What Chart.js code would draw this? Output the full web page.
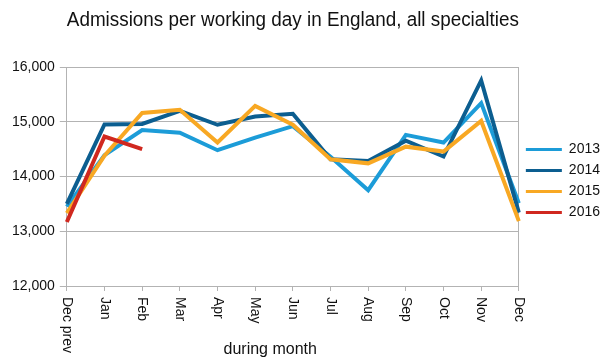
<!DOCTYPE html>
<html lang="en">
<head>
  <meta charset="UTF-8">
  <title>Admissions per working day in England</title>
  <script src="https://cdn.jsdelivr.net/npm/chart.js"></script>
  <style>
    html, body {
      margin: 0;
      padding: 0;
      background: #ffffff;
    }
    #wrap {
      width: 606px;
      height: 362px;
    }
  </style>
</head>
<body>

<div id="wrap"><canvas id="grafico" width="606" height="362"></canvas></div>

<script>
const chartTitle = 'Admissions per working day in England, all specialties';
const xTitle = 'during month';
const months = ['Dec prev', 'Jan', 'Feb', 'Mar', 'Apr', 'May', 'Jun', 'Jul', 'Aug', 'Sep', 'Oct', 'Nov', 'Dec'];
const y2013 = [13450, 14390, 14850, 14800, 14480, 14710, 14920, 14360, 13750, 14760, 14620, 15340, 13510];
const y2014 = [13500, 14950, 14960, 15200, 14945, 15095, 15145, 14315, 14285, 14655, 14365, 15755, 13340];
const y2015 = [13330, 14380, 15160, 15220, 14620, 15290, 14945, 14315, 14240, 14545, 14455, 15015, 13185];
const y2016 = [13170, 14730, 14500];
const yTicks = [12000, 13000, 14000, 15000, 16000];

const grid = '#b3b3b3';
const font = 'Liberation Sans, Arial, sans-serif';

// x labels read top to bottom, so they are drawn here instead of by the scale
const rotatedLabels = {
  id: 'rotatedLabels',
  afterDraw(chart) {
    const ctx = chart.ctx;
    const xs = chart.scales.x;
    const area = chart.chartArea;
    ctx.save();
    ctx.fillStyle = '#111';
    ctx.font = '14px ' + font;
    months.forEach((m, i) => {
      ctx.save();
      ctx.translate(xs.getPixelForTick(i), area.bottom + 11);
      ctx.rotate(Math.PI / 2);
      ctx.textAlign = 'left';
      ctx.textBaseline = 'middle';
      ctx.fillText(m, 0, 0);
      ctx.restore();
    });
    ctx.font = '16px ' + font;
    ctx.textAlign = 'center';
    ctx.textBaseline = 'alphabetic';
    ctx.fillText(xTitle, area.left + (area.right - area.left) * 0.45, area.bottom + 68);
    ctx.restore();
  }
};

const mkSet = (label, data, color) => ({
  label: label,
  data: data,
  borderColor: color,
  backgroundColor: color,
  borderWidth: 4,
  pointRadius: 0,
  tension: 0,
  fill: false
});

new Chart(document.getElementById('grafico').getContext('2d'), {
  type: 'line',
  data: {
    labels: months,
    datasets: [
      mkSet('2016', y2016, '#d0281f'),
      mkSet('2015', y2015, '#f8a823'),
      mkSet('2014', y2014, '#0c5e90'),
      mkSet('2013', y2013, '#1c9cd8')
    ]
  },
  options: {
    responsive: false,
    animation: false,
    layout: { padding: { left: 7, right: -4, top: 0, bottom: 0 } },
    scales: {
      x: {
        grid: {
          color: (c) => (c.index === 0 || c.index === months.length - 1) ? grid : 'rgba(0,0,0,0)',
          tickColor: grid,
          tickLength: 5
        },
        border: { color: grid },
        ticks: { display: false },
        afterFit: (scale) => { scale.height = 76; }
      },
      y: {
        min: yTicks[0],
        max: yTicks[yTicks.length - 1],
        afterBuildTicks: (scale) => { scale.ticks = yTicks.map(v => ({ value: v })); },
        grid: { color: grid, tickLength: 7 },
        border: { color: grid },
        ticks: {
          color: '#111',
          padding: 5,
          font: { family: font, size: 14 },
          callback: (v) => v.toLocaleString('en-US')
        }
      }
    },
    plugins: {
      title: {
        display: true,
        fullSize: false,
        text: chartTitle,
        color: '#111',
        font: { family: font, size: 20, weight: 'normal' },
        padding: { top: 8, bottom: 35 }
      },
      legend: {
        position: 'right',
        reverse: true,
        labels: {
          color: '#111',
          font: { family: font, size: 14 },
          usePointStyle: true,
          pointStyle: 'line',
          pointStyleWidth: 36,
          boxWidth: 32,
          padding: 7,
          generateLabels: (chart) => Chart.defaults.plugins.legend.labels.generateLabels(chart)
            .map(l => Object.assign(l, { lineWidth: 3, pointStyle: 'line' }))
        }
      },
      tooltip: { enabled: false }
    }
  },
  plugins: [rotatedLabels]
});
</script>

</body>
</html>
